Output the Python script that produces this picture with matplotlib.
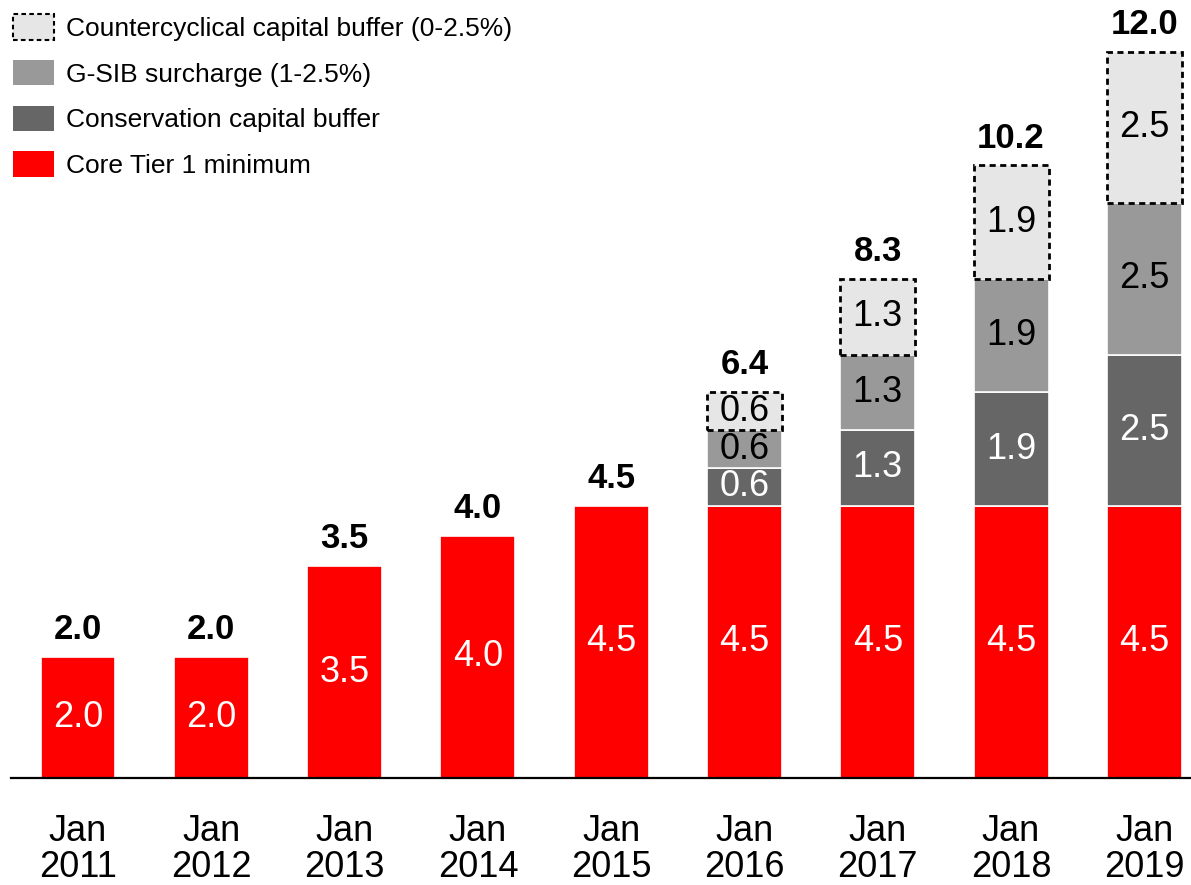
import matplotlib
matplotlib.use("Agg")
import matplotlib.pyplot as plt
from matplotlib.patches import Patch

plt.rcParams['font.family'] = ['Liberation Sans', 'DejaVu Sans']

years = ["Jan\n2011", "Jan\n2012", "Jan\n2013", "Jan\n2014", "Jan\n2015",
         "Jan\n2016", "Jan\n2017", "Jan\n2018", "Jan\n2019"]
core_tier1 = [2.0, 2.0, 3.5, 4.0, 4.5, 4.5, 4.5, 4.5, 4.5]
conservation = [0, 0, 0, 0, 0, 0.625, 1.25, 1.875, 2.5]
gsib = [0, 0, 0, 0, 0, 0.625, 1.25, 1.875, 2.5]
countercyclical = [0, 0, 0, 0, 0, 0.625, 1.25, 1.875, 2.5]
totals_text = ["2.0", "2.0", "3.5", "4.0", "4.5", "6.4", "8.3", "10.2", "12.0"]
series_names = ["Core Tier 1 minimum", "Conservation capital buffer",
                "G-SIB surcharge (1-2.5%)", "Countercyclical capital buffer (0-2.5%)"]

colors = ["#FF0000", "#666666", "#999999", "#E6E6E6"]
text_colors = ["white", "white", "black", "black"]

fig = plt.figure(figsize=(11.91, 8.85), dpi=100)
ax = fig.add_axes([11/1191, 1 - 778/885, 1 - 11/1191, 778/885])

x = list(range(len(years)))
width = 0.562
series = [core_tier1, conservation, gsib, countercyclical]
bottoms = [0.0] * len(x)
dash = (0, (2.2, 1.6))
for si, vals in enumerate(series):
    for i, v in enumerate(vals):
        if v <= 0:
            continue
        if si == 3:
            ax.bar(x[i], v, width, bottom=bottoms[i], color=colors[si],
                   edgecolor="black", linewidth=2, linestyle=dash, zorder=2)
        else:
            ax.bar(x[i], v, width, bottom=bottoms[i], color=colors[si],
                   edgecolor="white", linewidth=1.2, zorder=2)
        ax.text(x[i], bottoms[i] + v / 2, f"{round(v + 1e-9, 1):.1f}",
                ha="center", va="center", fontsize=26, color=text_colors[si], zorder=3)
    bottoms = [b + v for b, v in zip(bottoms, vals)]

for i, t in enumerate(totals_text):
    ax.text(x[i], bottoms[i] + 0.18, t, ha="center", va="bottom",
            fontsize=25, fontweight="bold", color="black")

ax.set_xlim(-0.503, 8.35)
ax.set_ylim(0, 778 / 60.5)
ax.set_xticks(x)
ax.set_xticklabels(years, fontsize=26, linespacing=1.05)
ax.tick_params(axis="x", length=0, pad=26)
ax.set_yticks([])
for s in ["top", "right", "left"]:
    ax.spines[s].set_visible(False)
ax.spines["bottom"].set_linewidth(1.6)
ax.spines["bottom"].set_color("black")

handles = [
    Patch(facecolor=colors[3], edgecolor="black", linewidth=1.5, linestyle=dash),
    Patch(facecolor=colors[2], edgecolor="none"),
    Patch(facecolor=colors[1], edgecolor="none"),
    Patch(facecolor=colors[0], edgecolor="none"),
]
labels = [series_names[3], series_names[2], series_names[1], series_names[0]]
leg = fig.legend(handles, labels, loc="upper left", bbox_to_anchor=(13/1191, 1 - 14/885),
                 frameon=False, fontsize=19, handlelength=1.55, handleheight=1.12,
                 labelspacing=0.72, handletextpad=0.45, borderpad=0, borderaxespad=0)

fig.savefig("out.png", dpi=100)
